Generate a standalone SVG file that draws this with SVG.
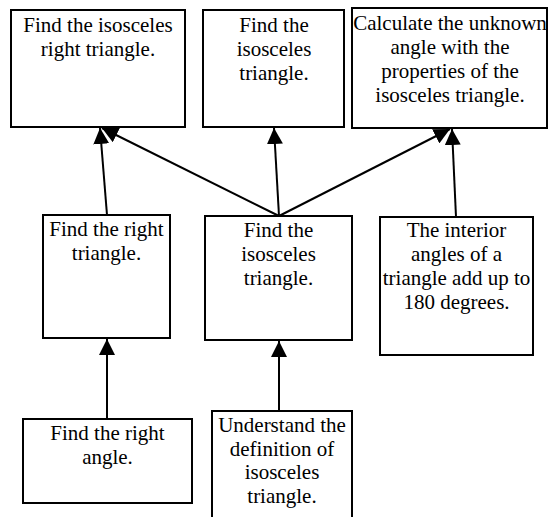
<svg xmlns="http://www.w3.org/2000/svg" width="548" height="517" viewBox="0 0 548 517">
<style>
.box{fill:#fff;stroke:#000;stroke-width:2}
.t{font-family:"Liberation Serif","Times New Roman",serif;font-size:21px;fill:#000;text-anchor:middle}
.c{stroke:#000;stroke-width:2;fill:none;marker-end:url(#ah)}
</style>
<defs>
<marker id="ah" markerUnits="userSpaceOnUse" markerWidth="16" markerHeight="16" refX="16" refY="8" orient="auto" viewBox="0 0 16 16">
<path d="M0,0 L16,8 L0,16 z" fill="#000"/>
</marker>
</defs>
<rect width="548" height="517" fill="#fff"/>
<g id="n1"><rect class="box" x="11" y="10" width="174" height="117"/>
<text class="t" x="98" y="32">Find the isosceles</text><text class="t" x="98" y="56">right triangle.</text></g>
<g id="n2"><rect class="box" x="203" y="10" width="141" height="117"/>
<text class="t" x="274" y="32">Find the</text><text class="t" x="274" y="56">isosceles</text><text class="t" x="274" y="80">triangle.</text></g>
<g id="n3"><rect class="box" x="352" y="8" width="195" height="120"/>
<text class="t" x="450" y="30">Calculate the unknown</text><text class="t" x="450" y="54">angle with the</text><text class="t" x="450" y="78">properties of the</text><text class="t" x="450" y="102">isosceles triangle.</text></g>
<g id="n4"><rect class="box" x="43" y="215" width="127" height="123"/>
<text class="t" x="106.5" y="236">Find the right</text><text class="t" x="106.5" y="260">triangle.</text></g>
<g id="n5"><rect class="box" x="205" y="216" width="147" height="124"/>
<text class="t" x="278.5" y="237">Find the</text><text class="t" x="278.5" y="261">isosceles</text><text class="t" x="278.5" y="285">triangle.</text></g>
<g id="n6"><rect class="box" x="380" y="217" width="153" height="138"/>
<text class="t" x="456.5" y="237">The interior</text><text class="t" x="456.5" y="261">angles of a</text><text class="t" x="456.5" y="285">triangle add up to</text><text class="t" x="456.5" y="309">180 degrees.</text></g>
<g id="n7"><rect class="box" x="23" y="419" width="169" height="84"/>
<text class="t" x="107.5" y="440">Find the right</text><text class="t" x="107.5" y="464">angle.</text></g>
<g id="n8"><rect class="box" x="212" y="411" width="140" height="120"/>
<text class="t" x="282" y="432">Understand the</text><text class="t" x="282" y="456">definition of</text><text class="t" x="282" y="479">isosceles</text><text class="t" x="282" y="503">triangle.</text></g>
<g id="connectors">
<line class="c" x1="107" y1="419" x2="107" y2="339"/>
<line class="c" x1="279" y1="411" x2="279" y2="341"/>
<line class="c" x1="107" y1="215" x2="100" y2="128"/>
<line class="c" x1="279" y1="216" x2="102" y2="128"/>
<line class="c" x1="279" y1="216" x2="274" y2="128"/>
<line class="c" x1="279" y1="216" x2="450" y2="129"/>
<line class="c" x1="456" y1="217" x2="452" y2="129"/>
</g>
</svg>
